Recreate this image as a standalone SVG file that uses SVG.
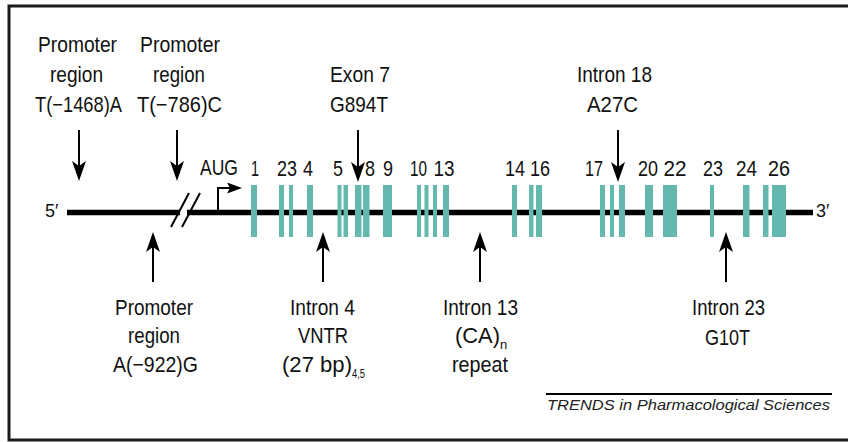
<svg xmlns="http://www.w3.org/2000/svg" width="848" height="442" viewBox="0 0 848 442">
<style>
.t{font-family:"Liberation Sans Narrow","Liberation Sans",Arial,sans-serif;font-size:22.5px;fill:#111;text-anchor:middle}
.s{font-family:"Liberation Sans Narrow","Liberation Sans",Arial,sans-serif;font-size:13px;fill:#111}
.end{font-family:"Liberation Sans Narrow","Liberation Sans",Arial,sans-serif;font-size:18px;fill:#111}
.ex{fill:#64b9ae}
.ar{stroke:#000;stroke-width:2;fill:none;marker-end:url(#ah)}
</style>
<defs>
<marker id="ah" viewBox="0 0 20 14" refX="13" refY="7" markerWidth="20" markerHeight="14" markerUnits="userSpaceOnUse" orient="auto">
<path d="M0,0 L20,7 L0,14 L5,7 Z" fill="#000"/>
</marker>
<marker id="ahs" viewBox="0 0 15 11" refX="7" refY="5.5" markerWidth="15" markerHeight="11" markerUnits="userSpaceOnUse" orient="auto">
<path d="M0,0 L15,5.5 L0,11 L3,5.5 Z" fill="#000"/>
</marker>
</defs>
<rect width="848" height="442" fill="#fff"/>
<path d="M848,6 H9 V440 H848" fill="none" stroke="#1a1a1a" stroke-width="3"/>

<g id="gene">
<line x1="67" y1="212.5" x2="180" y2="212.5" stroke="#000" stroke-width="5.5"/>
<line x1="187" y1="212.5" x2="813" y2="212.5" stroke="#000" stroke-width="5.5"/>
<line x1="171" y1="227" x2="189" y2="193" stroke="#000" stroke-width="2"/>
<line x1="182" y1="227" x2="200" y2="193" stroke="#000" stroke-width="2"/>
<polyline points="218,212 218,188 234,188" fill="none" stroke="#000" stroke-width="2" marker-end="url(#ahs)"/>
<text class="end" x="45" y="217">5′</text>
<text class="end" x="816" y="217">3′</text>
<text class="t" x="219" y="175" textLength="38" lengthAdjust="spacingAndGlyphs">AUG</text>
</g>

<g id="exons">
<rect class="ex" x="251" y="185" width="6" height="52"/>
<rect class="ex" x="279" y="185" width="5" height="52"/>
<rect class="ex" x="289" y="185" width="4" height="52"/>
<rect class="ex" x="307" y="185" width="6" height="52"/>
<rect class="ex" x="337.5" y="185" width="4" height="52"/>
<rect class="ex" x="343.5" y="185" width="4.5" height="52"/>
<rect class="ex" x="355" y="185" width="6.5" height="52"/>
<rect class="ex" x="363" y="185" width="6.5" height="52"/>
<rect class="ex" x="383" y="185" width="9" height="52"/>
<rect class="ex" x="417" y="185" width="4" height="52"/>
<rect class="ex" x="424.5" y="185" width="4" height="52"/>
<rect class="ex" x="433" y="185" width="4" height="52"/>
<rect class="ex" x="443" y="185" width="6" height="52"/>
<rect class="ex" x="512" y="185" width="5" height="52"/>
<rect class="ex" x="529" y="185" width="4.5" height="52"/>
<rect class="ex" x="536" y="185" width="6" height="52"/>
<rect class="ex" x="600" y="185" width="5" height="52"/>
<rect class="ex" x="610" y="185" width="4" height="52"/>
<rect class="ex" x="619" y="185" width="6" height="52"/>
<rect class="ex" x="645" y="185" width="8" height="52"/>
<rect class="ex" x="663" y="185" width="14" height="52"/>
<rect class="ex" x="710" y="185" width="4" height="52"/>
<rect class="ex" x="743" y="185" width="6.5" height="52"/>
<rect class="ex" x="763" y="185" width="5.5" height="52"/>
<rect class="ex" x="772" y="185" width="14" height="52"/>
<text class="t" x="255" y="176" textLength="8" lengthAdjust="spacingAndGlyphs">1</text>
<text class="t" x="287" y="176" textLength="20" lengthAdjust="spacingAndGlyphs">23</text>
<text class="t" x="308" y="176" textLength="10" lengthAdjust="spacingAndGlyphs">4</text>
<text class="t" x="338" y="176" textLength="10" lengthAdjust="spacingAndGlyphs">5</text>
<text class="t" x="370" y="176" textLength="10" lengthAdjust="spacingAndGlyphs">8</text>
<text class="t" x="388" y="176" textLength="10" lengthAdjust="spacingAndGlyphs">9</text>
<text class="t" x="418.5" y="176" textLength="17" lengthAdjust="spacingAndGlyphs">10</text>
<text class="t" x="444" y="176" textLength="21" lengthAdjust="spacingAndGlyphs">13</text>
<text class="t" x="515" y="176" textLength="20" lengthAdjust="spacingAndGlyphs">14</text>
<text class="t" x="540" y="176" textLength="20" lengthAdjust="spacingAndGlyphs">16</text>
<text class="t" x="594" y="176" textLength="18" lengthAdjust="spacingAndGlyphs">17</text>
<text class="t" x="648" y="176" textLength="20" lengthAdjust="spacingAndGlyphs">20</text>
<text class="t" x="675" y="176" textLength="23" lengthAdjust="spacingAndGlyphs">22</text>
<text class="t" x="713" y="176" textLength="20" lengthAdjust="spacingAndGlyphs">23</text>
<text class="t" x="746.5" y="176" textLength="21" lengthAdjust="spacingAndGlyphs">24</text>
<text class="t" x="779" y="176" textLength="22" lengthAdjust="spacingAndGlyphs">26</text>
</g>

<g id="label-p1468">
<text class="t" x="77.5" y="52" textLength="79" lengthAdjust="spacingAndGlyphs">Promoter</text>
<text class="t" x="76.5" y="82" textLength="53" lengthAdjust="spacingAndGlyphs">region</text>
<text class="t" x="78.5" y="112" textLength="87" lengthAdjust="spacingAndGlyphs">T(−1468)A</text>
</g>
<g id="label-p786">
<text class="t" x="180" y="52" textLength="80" lengthAdjust="spacingAndGlyphs">Promoter</text>
<text class="t" x="179" y="82" textLength="52" lengthAdjust="spacingAndGlyphs">region</text>
<text class="t" x="179.5" y="112" textLength="85" lengthAdjust="spacingAndGlyphs">T(−786)C</text>
</g>
<g id="label-exon7">
<text class="t" x="360" y="82" textLength="60" lengthAdjust="spacingAndGlyphs">Exon 7</text>
<text class="t" x="359" y="112" textLength="58" lengthAdjust="spacingAndGlyphs">G894T</text>
</g>
<g id="label-intron18">
<text class="t" x="614.5" y="82" textLength="75" lengthAdjust="spacingAndGlyphs">Intron 18</text>
<text class="t" x="612.5" y="112" textLength="51" lengthAdjust="spacingAndGlyphs">A27C</text>
</g>
<g id="label-p922">
<text class="t" x="154" y="315" textLength="78" lengthAdjust="spacingAndGlyphs">Promoter</text>
<text class="t" x="154" y="343" textLength="52" lengthAdjust="spacingAndGlyphs">region</text>
<text class="t" x="155.5" y="372" textLength="85" lengthAdjust="spacingAndGlyphs">A(−922)G</text>
</g>
<g id="label-intron4">
<text class="t" x="322.5" y="315" textLength="65" lengthAdjust="spacingAndGlyphs">Intron 4</text>
<text class="t" x="323" y="343" textLength="50" lengthAdjust="spacingAndGlyphs">VNTR</text>
<text class="t" x="317" y="372" textLength="70" lengthAdjust="spacingAndGlyphs">(27 bp)</text>
<text class="s" x="352" y="378" textLength="13" lengthAdjust="spacingAndGlyphs">4,5</text>
</g>
<g id="label-intron13">
<text class="t" x="480.5" y="315" textLength="75" lengthAdjust="spacingAndGlyphs">Intron 13</text>
<text class="t" x="477.5" y="343" textLength="45" lengthAdjust="spacingAndGlyphs">(CA)</text>
<text class="s" x="500" y="349">n</text>
<text class="t" x="480" y="372" textLength="56" lengthAdjust="spacingAndGlyphs">repeat</text>
</g>
<g id="label-intron23">
<text class="t" x="728.5" y="315" textLength="73" lengthAdjust="spacingAndGlyphs">Intron 23</text>
<text class="t" x="727.5" y="345" textLength="45" lengthAdjust="spacingAndGlyphs">G10T</text>
</g>

<g id="connectors">
<line class="ar" x1="79" y1="130" x2="79" y2="174"/>
<line class="ar" x1="177" y1="130" x2="177" y2="174"/>
<line class="ar" x1="358" y1="130" x2="358" y2="175"/>
<line class="ar" x1="618" y1="130" x2="618" y2="175"/>
<line class="ar" x1="153" y1="282" x2="153" y2="239"/>
<line class="ar" x1="323" y1="282" x2="323" y2="239"/>
<line class="ar" x1="480" y1="282" x2="480" y2="239"/>
<line class="ar" x1="726" y1="282" x2="726" y2="239"/>
</g>

<g id="credit">
<line x1="546" y1="394" x2="832" y2="394" stroke="#000" stroke-width="2"/>
<text x="547" y="410" font-family="'Liberation Sans',Arial,sans-serif" font-size="14" font-style="italic" fill="#222" textLength="283" lengthAdjust="spacingAndGlyphs">TRENDS in Pharmacological Sciences</text>
</g>
</svg>
